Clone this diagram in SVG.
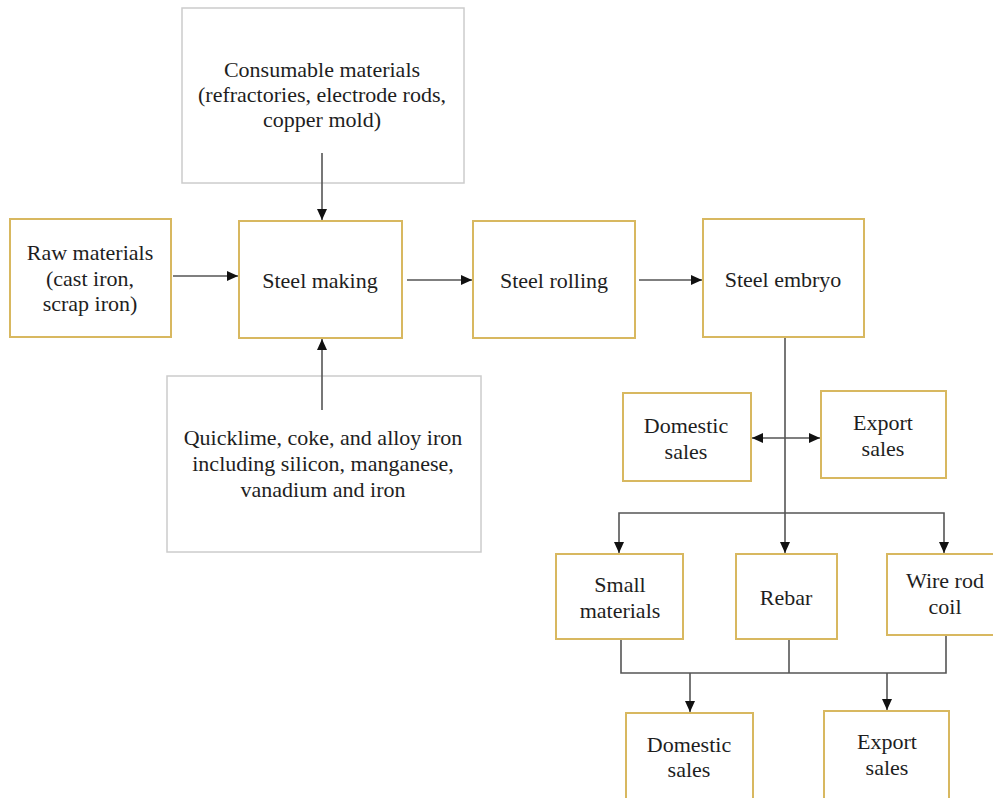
<svg xmlns="http://www.w3.org/2000/svg" width="993" height="798" viewBox="0 0 993 798">
<style>
.gold{fill:#fff;stroke:#d8b860;stroke-width:2}
.gray{fill:#fff;stroke:#cccccc;stroke-width:1.5}
.t text{font-size:22px;fill:#1e1e1e;text-anchor:middle}
.ln{fill:none;stroke:#555;stroke-width:1.6}
</style>
<defs>
<marker id="ah" markerUnits="userSpaceOnUse" markerWidth="12" markerHeight="10" refX="11" refY="5" orient="auto-start-reverse">
<path d="M0,0 L11,5 L0,10 z" fill="#111"/>
</marker>
</defs>
<g class="t" font-family="'Liberation Serif', 'Times New Roman', serif">
<g id="consumable"><rect class="gray" x="182" y="8" width="282" height="175"/>
<text x="322" y="77">Consumable materials</text><text x="322" y="102">(refractories, electrode rods,</text><text x="322" y="127">copper mold)</text></g>
<g id="raw"><rect class="gold" x="10" y="219" width="161" height="118"/>
<text x="90" y="260">Raw materials</text><text x="90" y="286">(cast iron,</text><text x="90" y="311">scrap iron)</text></g>
<g id="steelmaking"><rect class="gold" x="239" y="221" width="163" height="117"/><text x="320" y="288">Steel making</text></g>
<g id="steelrolling"><rect class="gold" x="473" y="221" width="162" height="117"/><text x="554" y="288">Steel rolling</text></g>
<g id="steelembryo"><rect class="gold" x="703" y="219" width="161" height="118"/><text x="783" y="287">Steel embryo</text></g>
<g id="quicklime"><rect class="gray" x="167" y="376" width="314" height="176"/>
<text x="323" y="445">Quicklime, coke, and alloy iron</text><text x="323" y="471">including silicon, manganese,</text><text x="323" y="497">vanadium and iron</text></g>
<g id="domestic1"><rect class="gold" x="623" y="393" width="128" height="88"/><text x="686" y="433">Domestic</text><text x="686" y="459">sales</text></g>
<g id="export1"><rect class="gold" x="821" y="391" width="125" height="87"/><text x="883" y="430">Export</text><text x="883" y="456">sales</text></g>
<g id="small"><rect class="gold" x="556" y="554" width="127" height="85"/><text x="620" y="592">Small</text><text x="620" y="618">materials</text></g>
<g id="rebar"><rect class="gold" x="736" y="554" width="101" height="85"/><text x="786" y="605">Rebar</text></g>
<g id="wirerod"><rect class="gold" x="887" y="554" width="116" height="81"/><text x="945" y="588">Wire rod</text><text x="945" y="614">coil</text></g>
<g id="domestic2"><rect class="gold" x="626" y="713" width="127" height="100"/><text x="689" y="752">Domestic</text><text x="689" y="777">sales</text></g>
<g id="export2"><rect class="gold" x="824" y="711" width="125" height="100"/><text x="887" y="749">Export</text><text x="887" y="775">sales</text></g>
</g>
<g id="connectors">
<line class="ln" x1="322" y1="153" x2="322" y2="220" marker-end="url(#ah)"/>
<line class="ln" x1="322" y1="410" x2="322" y2="339" marker-end="url(#ah)"/>
<line class="ln" x1="173" y1="276" x2="238" y2="276" marker-end="url(#ah)"/>
<line class="ln" x1="407" y1="280" x2="472" y2="280" marker-end="url(#ah)"/>
<line class="ln" x1="639" y1="280" x2="702" y2="280" marker-end="url(#ah)"/>
<line class="ln" x1="785" y1="338" x2="785" y2="553" marker-end="url(#ah)"/>
<line class="ln" x1="752" y1="438" x2="820" y2="438" marker-start="url(#ah)" marker-end="url(#ah)"/>
<polyline class="ln" points="619,553 619,513 944,513 944,553" marker-start="url(#ah)" marker-end="url(#ah)"/>
<polyline class="ln" points="621,640 621,673 946,673 946,636"/>
<line class="ln" x1="789" y1="640" x2="789" y2="673"/>
<line class="ln" x1="690" y1="673" x2="690" y2="712" marker-end="url(#ah)"/>
<line class="ln" x1="887" y1="673" x2="887" y2="710" marker-end="url(#ah)"/>
</g>
</svg>
